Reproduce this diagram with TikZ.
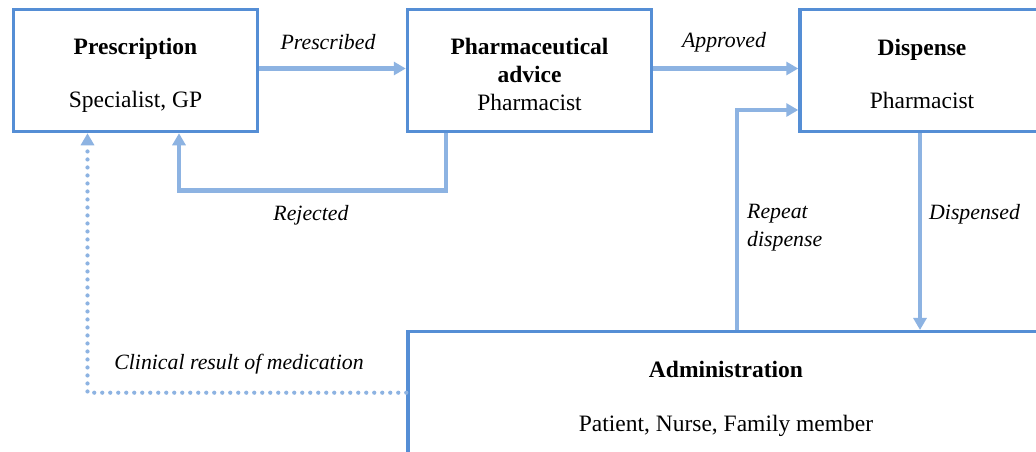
\documentclass[tikz,border=0pt]{standalone}
\usepackage{fontspec}
\setmainfont{Liberation Serif}
\usetikzlibrary{arrows.meta,calc}
\definecolor{boxblue}{HTML}{558ED5}
\definecolor{arrblue}{HTML}{8DB3E2}
\begin{document}
\begin{tikzpicture}[x=1pt,y=-1pt,
  box/.style={draw=boxblue,line width=3.5pt,rectangle,minimum width=244pt,minimum height=122pt,inner sep=0pt},
  txt/.style={align=center,inner sep=0pt,font=\fontsize{23.5}{28}\selectfont},
  arr/.style={draw=arrblue,line width=4.5pt,-{Triangle[length=12pt,width=13pt]}},
  dotarr/.style={draw=arrblue,line width=4.2pt,line cap=round,dash pattern=on 0pt off 8pt,
    -{Triangle[length=12pt,width=13pt]}},
  lbl/.style={font=\fontsize{21.8}{28}\selectfont\itshape,inner sep=0pt,align=left}]
\useasboundingbox (0,0) rectangle (1036,451);
\clip (0,0) rectangle (1036,451);
\fill[white] (0,0) rectangle (1036,451);

\node[box] (presc) at (135.5,70.5) {};
\node[box] (pharma) at (529.5,70.5) {};
\node[box] (disp) at (922,70.5) {};
\node[box,minimum width=636pt] (admin) at (726,392.7) {};

\node[txt] (prescT) at ([yshift=-4.5pt]presc.center) {\textbf{Prescription}\\[25pt]Specialist, GP};
\node[txt] (pharmaT) at ([yshift=-4pt]pharma.center) {\textbf{Pharmaceutical}\\\textbf{advice}\\Pharmacist};
\node[txt] (dispT) at ([yshift=-3pt]disp.center) {\textbf{Dispense}\\[25pt]Pharmacist};
\node[txt] (adminT) at ([yshift=-6pt]admin.center) {\textbf{Administration}\\[26pt]Patient, Nurse, Family member};

\draw[arr] ([yshift=2pt]presc.east) -- ([yshift=2pt]pharma.west);
\draw[arr] ([yshift=2pt]pharma.east) -- ([yshift=2pt]disp.west);
\draw[arr] ([xshift=-83.5pt]pharma.south) -- ++(0,57) -| ([xshift=43.5pt]presc.south);
\draw[arr] ([xshift=11pt]admin.north) |- ([yshift=-39.5pt]disp.west);
\draw[arr] ([xshift=-2pt]disp.south) -- ([xshift=-2pt]disp.south |- admin.north);
\draw[dotarr] (admin.west) -| ([xshift=-48pt]presc.south);

\node[lbl] (lpres) at (328,42) {Prescribed};
\node[lbl] (lappr) at (724,42) {Approved};
\node[lbl] (lrej) at (311,215) {Rejected};
\node[lbl,anchor=north west] (lrep) at (747,204) {Repeat\\dispense};
\node[lbl,anchor=west] (ldisp) at (929,214) {Dispensed};
\node[lbl] (lclin) at (239,364) {Clinical result of medication};
\end{tikzpicture}
\end{document}
